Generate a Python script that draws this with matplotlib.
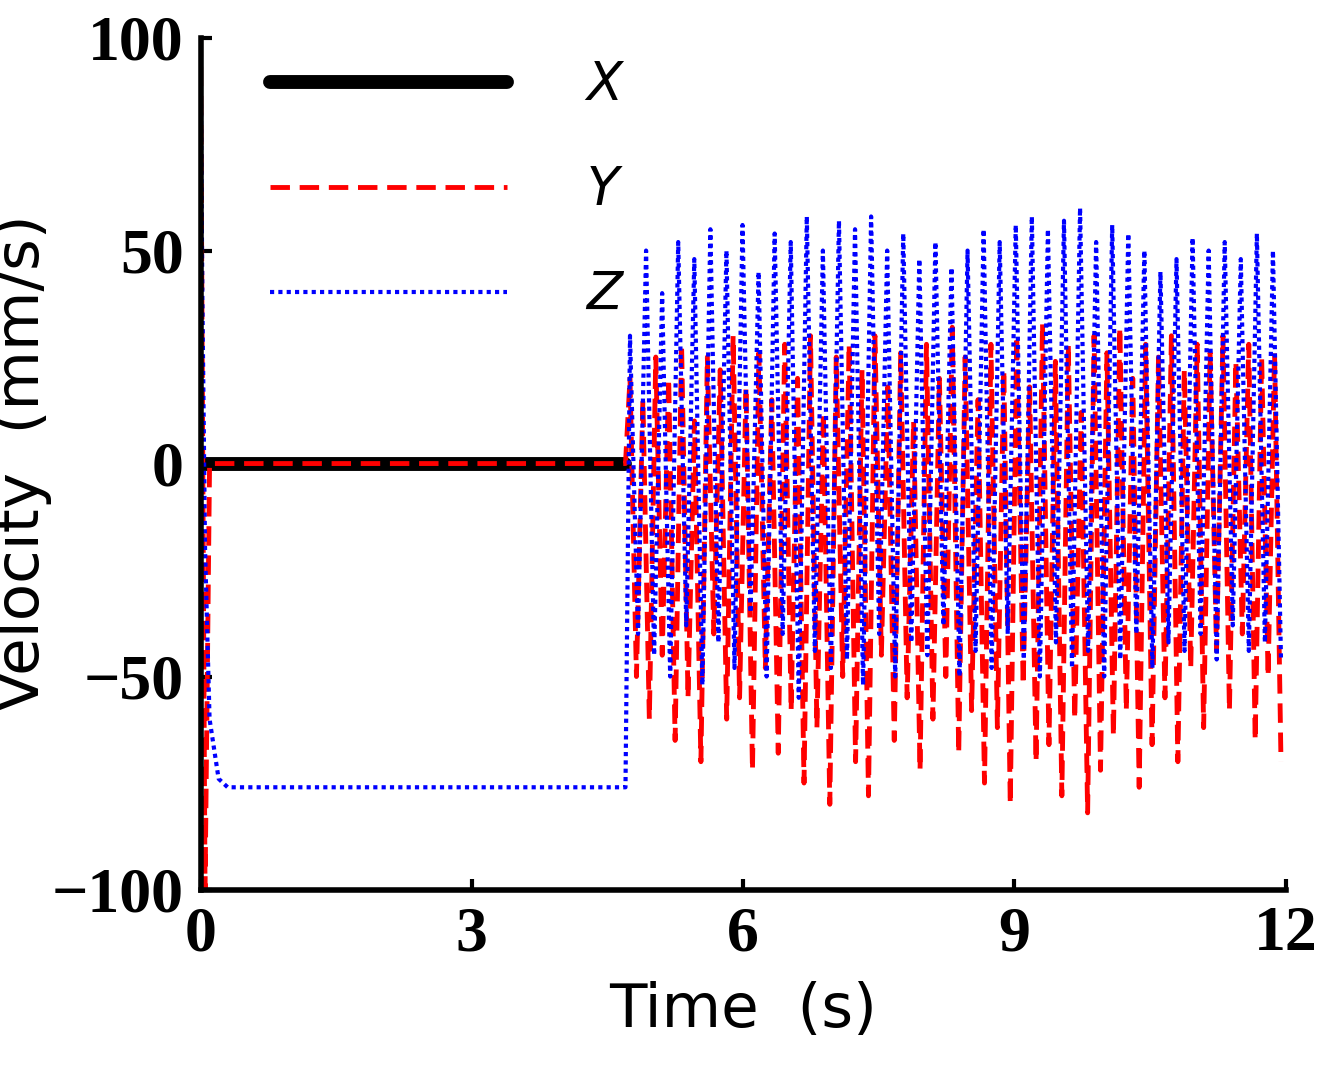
import numpy as np
import matplotlib.pyplot as plt

# early (quiet) part of each series
t_start = [0.0, 0.02, 0.05, 0.1, 0.2, 0.3, 1.0, 2.0, 3.0, 4.0, 4.7]
x_start = [0, 0, 0, 0, 0, 0, 0, 0, 0, 0, 0]
y_start = [100, 20, -100, 0, 0, 0, 0, 0, 0, 0, 0]
z_start = [100, 40, -20, -60, -74, -76, -76, -76, -76, -76, -76]

# oscillating part after ~4.75 s (estimated peaks/troughs)
y_noisy = [20, -50, 15, -60, 25, -45, 20, -65, 28, -55, 10, -70, 25, -40, 22, -60, 30, -55,
           18, -72, 26, -48, 15, -68, 28, -58, 20, -75, 30, -62, 12, -80, 25, -50, 28, -70,
           22, -78, 30, -45, 18, -65, 26, -55, 10, -72, 28, -60, 20, -50, 32, -68, 25, -58,
           15, -75, 28, -62, 22, -80, 30, -52, 18, -70, 33, -66, 24, -78, 28, -60, 12, -82,
           30, -72, 26, -64, 32, -58, 20, -76, 28, -66, 25, -55, 30, -70, 22, -48, 28, -62,
           26, -44, 30, -58, 24, -40, 28, -65, 25, -50, 26, -70]
z_noisy = [30, -40, 50, -45, 40, -50, 52, -38, 48, -52, 55, -42, 50, -48, 56, -35, 45, -50,
           54, -40, 52, -55, 58, -44, 50, -48, 57, -46, 55, -52, 58, -40, 50, -50, 54, -42,
           48, -45, 52, -38, 46, -50, 50, -44, 55, -48, 52, -40, 56, -46, 58, -50, 55, -42,
           57, -48, 60, -44, 52, -50, 56, -46, 54, -40, 50, -48, 45, -42, 48, -44, 53, -40,
           50, -46, 52, -38, 48, -44, 54, -42, 50, -46]

t_y = np.linspace(4.75, 11.95, len(y_noisy))
t_z = np.linspace(4.75, 11.95, len(z_noisy))

xticks = [0, 3, 6, 9, 12]
yticks = [-100, -50, 0, 50, 100]

fig = plt.figure(figsize=(13.28, 10.73), dpi=100)
ax = fig.add_axes([0.151, 0.171, 0.817, 0.794])

ax.plot(t_start, x_start, color='black', lw=10, label='X', solid_capstyle='round')
ax.plot(t_start + list(t_y), y_start + y_noisy, color='red', lw=3.5, ls=(0, (4, 2)), label='Y')
ax.plot(t_start + list(t_z), z_start + z_noisy, color='blue', lw=3, ls=(0, (1, 1)), label='Z')

ax.set_xlim(0, 12)
ax.set_ylim(-100, 100)
ax.set_xticks(xticks)
ax.set_yticks(yticks)
for s in ['top', 'right']:
    ax.spines[s].set_visible(False)
for s in ['left', 'bottom']:
    ax.spines[s].set_linewidth(4)
ax.tick_params(width=3, length=8, direction='in', pad=12)
for lab in ax.get_xticklabels() + ax.get_yticklabels():
    lab.set_fontfamily('Liberation Serif')
    lab.set_fontweight('bold')
    lab.set_fontsize(46)

ax.set_xlabel('Time  (s)', fontsize=44, family='DejaVu Sans', labelpad=12)
ax.set_ylabel('Velocity  (mm/s)', fontsize=44, family='DejaVu Sans', labelpad=0)

leg = ax.legend(loc='upper left', bbox_to_anchor=(0.02, 1.03), frameon=False,
                handlelength=4.5, labelspacing=1.0, handletextpad=1.5,
                prop={'family': 'DejaVu Sans', 'style': 'italic', 'size': 38})

fig.savefig('out.png')
